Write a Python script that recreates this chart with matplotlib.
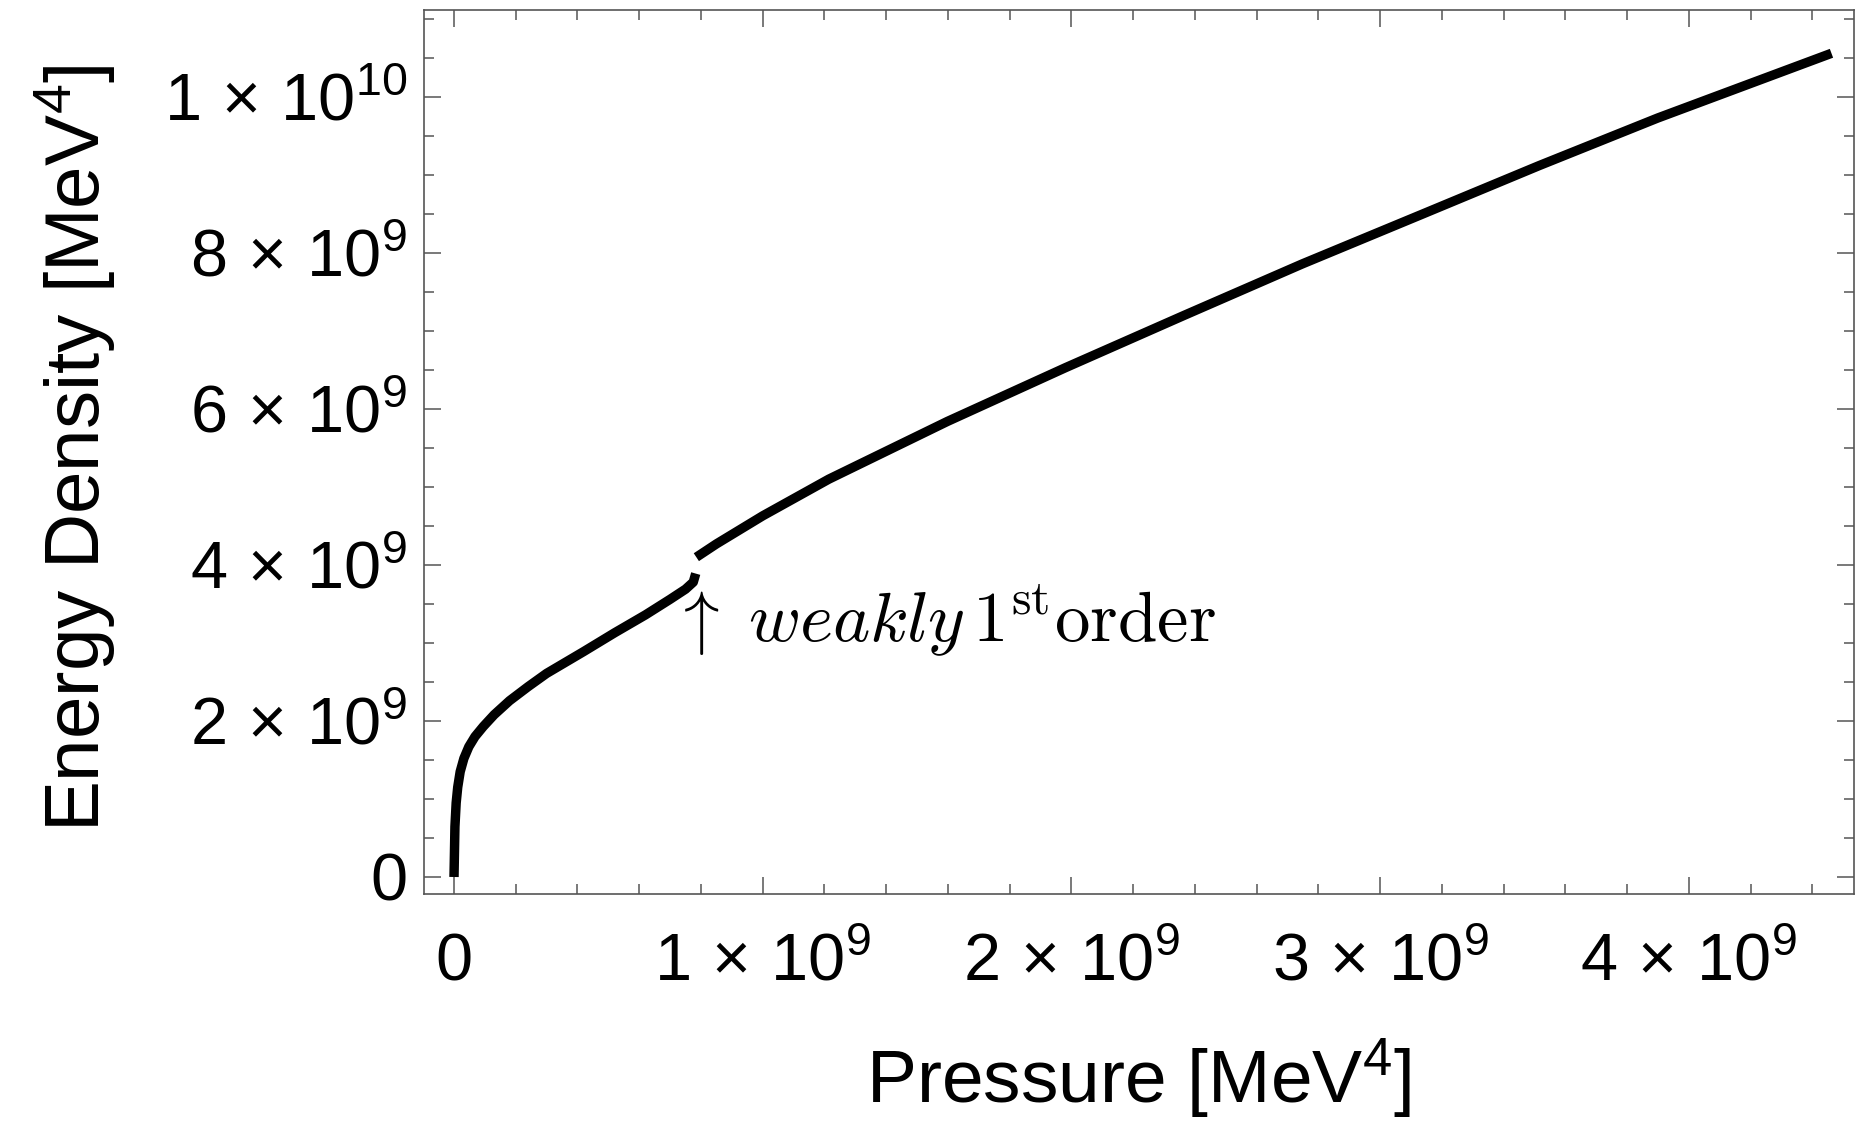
import matplotlib
matplotlib.use("Agg")
import matplotlib.pyplot as plt
import numpy as np

plt.rcParams['font.family'] = ['Liberation Sans', 'DejaVu Sans']
plt.rcParams['mathtext.fontset'] = 'custom'
plt.rcParams['mathtext.rm'] = 'Liberation Sans'
plt.rcParams['mathtext.it'] = 'Liberation Sans:italic'
plt.rcParams['mathtext.bf'] = 'Liberation Sans:bold'

# ---- data, units MeV^4 ----
lower_pressure = np.array([0.0, 0.003, 0.007, 0.012, 0.020, 0.032, 0.048, 0.068, 0.095,
                           0.13, 0.18, 0.24, 0.30, 0.42, 0.52, 0.62, 0.70, 0.75,
                           0.775, 0.783]) * 1e9
lower_energy = np.array([0.0, 0.645, 0.95, 1.15, 1.35, 1.52, 1.67, 1.80, 1.93,
                         2.08, 2.26, 2.44, 2.61, 2.89, 3.13, 3.36, 3.56, 3.69,
                         3.78, 3.89]) * 1e9

upper_pressure = np.array([0.785, 0.85, 1.0, 1.214, 1.598, 1.981, 2.365, 2.748,
                           3.132, 3.515, 3.899, 4.462]) * 1e9
upper_energy = np.array([4.10, 4.27, 4.63, 5.10, 5.84, 6.53, 7.20, 7.86,
                         8.49, 9.12, 9.73, 10.56]) * 1e9

xticks = [0, 1e9, 2e9, 3e9, 4e9]
xtick_labels = ["0", r"$1\,\times\,10^{9}$", r"$2\,\times\,10^{9}$",
                r"$3\,\times\,10^{9}$", r"$4\,\times\,10^{9}$"]
yticks = [0, 2e9, 4e9, 6e9, 8e9, 1e10]
ytick_labels = ["0", r"$2\,\times\,10^{9}$", r"$4\,\times\,10^{9}$", r"$6\,\times\,10^{9}$",
                r"$8\,\times\,10^{9}$", r"$1\,\times\,10^{10}$"]

x_label = r"Pressure [MeV$^{4}$]"
y_label = r"Energy Density [MeV$^{4}$]"
annotation = r"$\uparrow\;\mathit{weakly}\,1^{\mathrm{st}}\mathrm{order}$"
annotation_pos = (0.704e9, 3.01e9)

# ---- figure ----
W, H = 1857, 1123
fig = plt.figure(figsize=(W / 100, H / 100), dpi=100)
ax = fig.add_axes([424 / W, 1 - 894 / H, 1430 / W, 884 / H])

ax.plot(lower_pressure, lower_energy, color='black', lw=6.8, solid_capstyle='butt',
        solid_joinstyle='round')
ax.plot(upper_pressure, upper_energy, color='black', lw=6.8, solid_capstyle='butt',
        solid_joinstyle='round')

ax.set_xlim(-0.0972e9, 4.535e9)
ax.set_ylim(-0.218e9, 11.115e9)

frame_color = '#555555'
for sp in ax.spines.values():
    sp.set_color(frame_color)
    sp.set_linewidth(1.2)

ax.set_xticks(xticks, labels=xtick_labels)
ax.set_yticks(yticks, labels=ytick_labels)
ax.set_xticks(np.arange(0, 4.6e9, 0.2e9), minor=True)
ax.set_yticks(np.arange(0, 11.1e9, 0.5e9), minor=True)

ax.tick_params(which='both', direction='in', top=True, right=True, color=frame_color,
               width=1.1, labelsize=48)
ax.tick_params(which='major', length=12)
ax.tick_params(which='minor', length=7)
ax.tick_params(axis='x', which='major', pad=62)
ax.tick_params(axis='y', which='major', pad=12)
for lbl in ax.get_xticklabels():
    lbl.set_va('baseline')

ax.set_xlabel(x_label, fontsize=54)
ax.xaxis.label.set_va('baseline')
ax.xaxis.set_label_coords(0.5, (894 - 1103) / 884)

ax.set_ylabel(y_label, fontsize=55)
ax.yaxis.label.set_va('baseline')
ax.yaxis.set_label_coords((100 - 424) / 1430, (894 - 448) / 884)

ax.text(annotation_pos[0], annotation_pos[1], annotation, fontsize=51,
        math_fontfamily='cm', ha='left', va='baseline')

fig.savefig('out.png', dpi=100)
